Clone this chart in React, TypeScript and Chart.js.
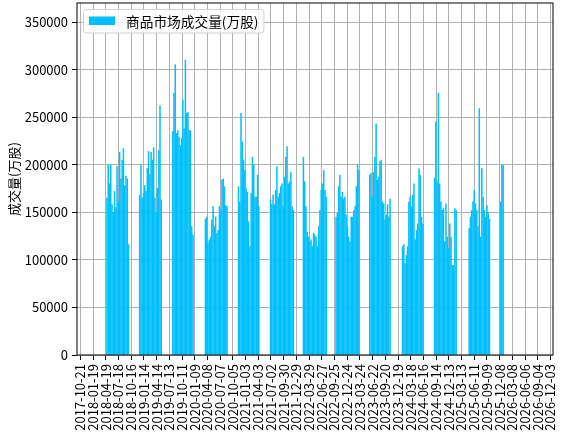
import React, { useEffect, useRef } from 'react';
import { Chart, registerables } from 'chart.js';

Chart.register(...registerables);

// ---------- data ----------
const SERIES_NAME = '商品市场成交量(万股)';
const Y_TITLE = '成交量(万股)';
const BAR_COLOR = '#00bfff';

// x tick labels: every 90 days from 2017-10-21 to 2026-12-03
const TICK_START = '2017-10-21';
const TICK_STEP_DAYS = 90;
const TICK_COUNT = 38;
const X_MIN_DATE = '2017-09-27';
const X_MAX_DATE = '2026-12-21';

const Y_TICKS = [0, 50000, 100000, 150000, 200000, 250000, 300000, 350000];
const Y_MAX = 370000;

// trading blocks: first date of each block, bars every BAR_STEP_DAYS days
const BAR_STEP_DAYS = 9;
const blockStarts = [
  '2018-04-27', '2018-12-15', '2019-08-06', '2020-03-25', '2020-11-14',
  '2021-06-29', '2022-02-17', '2022-10-06', '2023-06-02', '2024-01-20',
  '2024-09-03', '2025-05-06', '2025-12-15',
];

const vol2018 = [165000, 200000, 180000, 200000, 158000, 150000, 172000, 155000, 198000, 160000, 213000, 185000, 205000, 217000, 178000, 188000, 185000, 116000];
const vol2019a = [168000, 200000, 165000, 170000, 178000, 172000, 196000, 214000, 190000, 213000, 205000, 218000, 165000, 150000, 175000, 215000, 262000, 163000];
const vol2019b = [235000, 275000, 305000, 233000, 236000, 229000, 220000, 228000, 268000, 238000, 310000, 254000, 255000, 236000, 236000, 135000, 126000];
const vol2020a = [143000, 145000, 117000, 121000, 124000, 142000, 156000, 135000, 145000, 128000, 131000, 156000, 152000, 184000, 185000, 177000, 157000, 156000];
const vol2020b = [177000, 161000, 254000, 224000, 205000, 194000, 175000, 171000, 140000, 114000, 170000, 208000, 200000, 166000, 166000, 189000, 156000];
const vol2021 = [163000, 158000, 168000, 158000, 173000, 198000, 166000, 170000, 177000, 180000, 156000, 187000, 208000, 219000, 180000, 182000, 192000, 156000, 152000];
const vol2022a = [208000, 182000, 156000, 129000, 124000, 119000, 121000, 114000, 128000, 126000, 124000, 114000, 135000, 152000, 173000, 180000, 194000, 173000, 166000];
const vol2022b = [145000, 149000, 177000, 189000, 166000, 171000, 164000, 166000, 147000, 135000, 124000, 119000, 145000, 145000, 152000, 156000, 177000, 200000, 194000];
const vol2023 = [189000, 191000, 166000, 192000, 208000, 243000, 184000, 187000, 203000, 205000, 161000, 159000, 142000, 147000, 158000, 145000, 164000];
const vol2024a = [114000, 116000, 96000, 105000, 114000, 161000, 166000, 156000, 168000, 180000, 121000, 131000, 138000, 196000, 189000, 145000, 138000];
const vol2024b = [186000, 245000, 182000, 275000, 180000, 161000, 152000, 154000, 119000, 159000, 124000, 112000, 138000, 124000, 94000, 94000, 154000, 152000];
const vol2025a = [133000, 145000, 152000, 161000, 173000, 159000, 152000, 135000, 259000, 124000, 196000, 166000, 152000, 145000, 157000, 149000, 143000];
const vol2025b = [161000, 200000, 199000];

const blockValues = [
  vol2018, vol2019a, vol2019b, vol2020a, vol2020b, vol2021, vol2022a,
  vol2022b, vol2023, vol2024a, vol2024b, vol2025a, vol2025b,
];

// ---------- helpers ----------
const DAY_MS = 86400000;
function dayNum(s: string): number {
  const [y, m, d] = s.split('-').map(Number);
  return Math.round(Date.UTC(y, m - 1, d) / DAY_MS);
}
function dayLabel(v: number): string {
  return new Date(v * DAY_MS).toISOString().slice(0, 10);
}

const FONT = '"Noto Sans CJK SC", "DejaVu Sans", sans-serif';
const FONT_SIZE = 13;

const frameAndLegend = {
  id: 'frameAndLegend',
  afterDraw(chart: any) {
    const { ctx, chartArea } = chart;
    const { left, top, right, bottom } = chartArea;
    ctx.save();
    ctx.strokeStyle = '#000';
    ctx.lineWidth = 1;
    ctx.strokeRect(left, top, right - left, bottom - top);

    ctx.font = `${FONT_SIZE + 0.7}px ${FONT}`;
    const tw = ctx.measureText(SERIES_NAME).width;
    const lx = left + 6.5;
    const ly = top + 6.5;
    const lw = 42.5 + tw + 5.5;
    const lh = 23.5;
    ctx.beginPath();
    if ((ctx as any).roundRect) (ctx as any).roundRect(lx, ly, lw, lh, 3);
    else ctx.rect(lx, ly, lw, lh);
    ctx.fillStyle = 'rgba(255,255,255,0.85)';
    ctx.fill();
    ctx.strokeStyle = 'rgba(204,204,204,0.9)';
    ctx.lineWidth = 1;
    ctx.stroke();
    ctx.fillStyle = BAR_COLOR;
    ctx.fillRect(lx + 5.5, ly + 7, 26, 8.5);
    ctx.fillStyle = '#000';
    ctx.textBaseline = 'middle';
    ctx.textAlign = 'left';
    ctx.fillText(SERIES_NAME, lx + 42.5, ly + lh / 2 + 0.5);
    ctx.restore();
  },
};

export default function App() {
  const canvasRef = useRef<HTMLCanvasElement | null>(null);

  useEffect(() => {
    document.body.style.margin = '0';
    const canvas = canvasRef.current;
    if (!canvas) return;

    const points: { x: number; y: number }[] = [];
    blockStarts.forEach((s, i) => {
      const d0 = dayNum(s);
      blockValues[i].forEach((v, j) => points.push({ x: d0 + j * BAR_STEP_DAYS, y: v }));
    });

    const t0 = dayNum(TICK_START);
    const xTicks = Array.from({ length: TICK_COUNT }, (_, k) => t0 + k * TICK_STEP_DAYS);

    const chart = new Chart(canvas, {
      type: 'bar',
      data: {
        datasets: [
          {
            label: SERIES_NAME,
            data: points as any,
            backgroundColor: BAR_COLOR,
            borderWidth: 0,
            barThickness: 0.85,
          } as any,
        ],
      },
      options: {
        animation: false,
        responsive: false,
        devicePixelRatio: 1,
        layout: { padding: { left: 0, right: 16, top: 3, bottom: 0 } },
        plugins: { legend: { display: false }, tooltip: { enabled: false } },
        font: { family: FONT, size: FONT_SIZE },
        scales: {
          x: {
            type: 'linear',
            min: dayNum(X_MIN_DATE),
            max: dayNum(X_MAX_DATE),
            offset: false,
            z: 1,
            grid: { color: '#b0b0b0', lineWidth: 1, tickColor: '#000', tickLength: 5, drawTicks: true, offset: false },
            border: { display: false },
            ticks: {
              autoSkip: false,
              minRotation: 90,
              maxRotation: 90,
              padding: 4,
              color: '#000',
              font: { family: FONT, size: FONT_SIZE },
              callback: (v: any) => dayLabel(Number(v)),
            },
            afterBuildTicks: (s: any) => {
              s.ticks = xTicks.map((v) => ({ value: v }));
            },
            afterFit: (s: any) => {
              s.height = 83;
              s.paddingLeft = 0;
              s.paddingRight = 0;
            },
          },
          y: {
            type: 'linear',
            min: 0,
            max: Y_MAX,
            z: 1,
            grid: { color: '#b0b0b0', lineWidth: 1, tickColor: '#000', tickLength: 5, drawTicks: true },
            border: { display: false },
            ticks: {
              padding: 4,
              color: '#000',
              font: { family: FONT, size: FONT_SIZE },
              callback: (v: any) => String(v),
            },
            title: {
              display: true,
              text: Y_TITLE,
              color: '#000',
              font: { family: FONT, size: FONT_SIZE },
              padding: { top: 6, bottom: 0 },
            },
            afterBuildTicks: (s: any) => {
              s.ticks = Y_TICKS.map((v) => ({ value: v }));
            },
            afterFit: (s: any) => {
              s.width = 77;
              s.paddingTop = 0;
              s.paddingBottom = 0;
            },
          },
        },
      } as any,
      plugins: [frameAndLegend],
    });

    return () => chart.destroy();
  }, []);

  return (
    <div style={{ position: 'absolute', left: 0, top: 0, width: 569, height: 438, background: '#fff' }}>
      <canvas ref={canvasRef} width={569} height={438} style={{ width: 569, height: 438, display: 'block' }} />
    </div>
  );
}
